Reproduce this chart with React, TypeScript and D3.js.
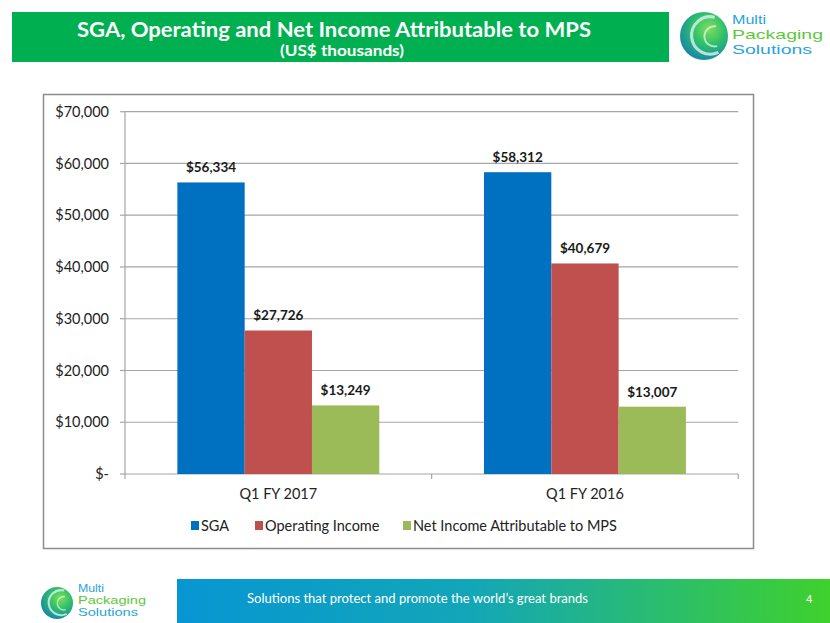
import React from "react";
import * as d3 from "d3";

const categories = ["Q1 FY 2017", "Q1 FY 2016"];
const seriesNames = ["SGA", "Operating Income", "Net Income Attributable to MPS"];
const sga = [56334, 58312];
const operatingIncome = [27726, 40679];
const netIncome = [13249, 13007];
const yTicks = [0, 10000, 20000, 30000, 40000, 50000, 60000, 70000];
const colors = ["#0070C0", "#C0504D", "#9BBB59"];
const logoWords = ["Multi", "Packaging", "Solutions"];

const W = 830, H = 623;
const FONT = "Lato, 'Open Sans', sans-serif";

function Logo({ cx, cy, r, tx, ty, fs, lh, widths }: { cx: number; cy: number; r: number; tx: number; ty: number; fs: number; lh: number; widths: number[] }) {
  const logoColors = ["#2aa3dc", "#5cc83a", "#2aa3dc"];
  return (
    <g>
      <circle cx={cx} cy={cy} r={r} fill="url(#orb)" />
      <path d={`M ${cx + r * 0.45} ${cy - r * 0.78} A ${r * 0.78} ${r * 0.78} 0 1 0 ${cx + r * 0.6} ${cy + r * 0.68}`} fill="none" stroke="#d8f3f0" strokeWidth={r * 0.13} opacity={0.8} />
      <path d={`M ${cx + r * 0.5} ${cy - r * 0.4} A ${r * 0.42} ${r * 0.42} 0 1 0 ${cx + r * 0.55} ${cy + r * 0.42}`} fill="none" stroke="#e8faf4" strokeWidth={r * 0.08} opacity={0.7} />
      {logoWords.map((w, i) => (
        <text key={w} x={tx} y={ty + i * lh} fill={logoColors[i]} fontSize={fs} fontFamily="'Liberation Sans', Arial, sans-serif" textLength={widths[i]} lengthAdjust="spacingAndGlyphs">
          {w}
        </text>
      ))}
    </g>
  );
}

export default function App() {
  const series = [sga, operatingIncome, netIncome];
  const x0 = d3.scaleBand<string>().domain(categories).range([125, 738.3]).paddingInner(0).paddingOuter(0);
  const x1 = d3.scaleBand<string>().domain(seriesNames).range([0, x0.bandwidth()]).paddingOuter(0.778).paddingInner(0);
  const y = d3.scaleLinear().domain([0, 70000]).range([474, 111.7]);
  const fmtTick = (v: number) => (v === 0 ? "$-" : "$" + d3.format(",")(v));
  const fmtVal = (v: number) => "$" + d3.format(",")(v);

  const legendItems = [
    { x: 191, label: seriesNames[0] },
    { x: 255, label: seriesNames[1] },
    { x: 403, label: seriesNames[2] },
  ];

  return (
    <svg width={W} height={H} style={{ position: "absolute", left: 0, top: 0, background: "#fff" }} fontFamily={FONT}>
      <defs>
        <linearGradient id="banner" x1="0" x2="1" y1="0" y2="0">
          <stop offset="0" stopColor="#0796d2" />
          <stop offset="0.45" stopColor="#13a6b8" />
          <stop offset="1" stopColor="#3fd12c" />
        </linearGradient>
        <radialGradient id="orb" cx="0.6" cy="0.35" r="0.75">
          <stop offset="0" stopColor="#7fe05a" />
          <stop offset="0.45" stopColor="#2fbf6a" />
          <stop offset="1" stopColor="#1479b8" />
        </radialGradient>
      </defs>

      {/* Title bar */}
      <rect x={12} y={12} width={657} height={50} fill="#00B050" />
      <text x={334} y={37} textAnchor="middle" fill="#fff" fontWeight="bold" fontSize={21} textLength={514} lengthAdjust="spacingAndGlyphs">
        SGA, Operating and Net Income Attributable to MPS
      </text>
      <text x={342} y={56} textAnchor="middle" fill="#fff" fontWeight="bold" fontSize={16} textLength={124} lengthAdjust="spacingAndGlyphs">
        (US$ thousands)
      </text>

      {/* Top-right logo */}
      <Logo cx={704} cy={36} r={24} tx={732} ty={24} fs={13.5} lh={15.2} widths={[34, 91, 80]} />

      {/* Chart frame */}
      <rect x={43.5} y={94.5} width={710} height={454} fill="#fff" stroke="#8c8c8c" strokeWidth={1.5} />

      {/* Gridlines */}
      {yTicks.map((t) => (
        <g key={t}>
          {t !== 0 && (
            <line x1={125} x2={738.3} y1={y(t)} y2={y(t)} stroke="#a6a6a6" strokeWidth={1.2} />
          )}
          <line x1={120} x2={125} y1={y(t)} y2={y(t)} stroke="#a6a6a6" strokeWidth={1.2} />
          <text x={109} y={y(t)} dy="0.35em" textAnchor="end" fill="#222" fontSize={14.5}>
            {fmtTick(t)}
          </text>
        </g>
      ))}
      {/* Axes */}
      <line x1={125} x2={125} y1={y(70000)} y2={y(0)} stroke="#a6a6a6" strokeWidth={1.2} />
      <line x1={125} x2={738.3} y1={y(0)} y2={y(0)} stroke="#a6a6a6" strokeWidth={1.2} />
      {[...categories.map((c) => x0(c)!), 738.3].map((xv, i) => (
        <line key={i} x1={xv} x2={xv} y1={y(0)} y2={y(0) + 5} stroke="#a6a6a6" strokeWidth={1.2} />
      ))}

      {/* Bars */}
      {categories.map((c, ci) => (
        <g key={c} transform={`translate(${x0(c)},0)`}>
          {seriesNames.map((s, si) => {
            const v = series[si][ci];
            const bx = x1(s)!;
            return (
              <g key={s}>
                <rect x={bx} y={y(v)} width={x1.bandwidth()} height={y(0) - y(v)} fill={colors[si]} />
                <text x={bx + x1.bandwidth() / 2} y={y(v) - 10} textAnchor="middle" fontWeight="bold" fontSize={13.5} fill="#1a1a1a">
                  {fmtVal(v)}
                </text>
              </g>
            );
          })}
          <text x={x0.bandwidth() / 2} y={499} textAnchor="middle" fontSize={14.5} fill="#222">
            {c}
          </text>
        </g>
      ))}

      {/* Legend */}
      {legendItems.map((it, i) => (
        <g key={it.label}>
          <rect x={it.x} y={521} width={8} height={9} fill={colors[i]} />
          <text x={it.x + 10} y={531} fontSize={14.5} fill="#222">{it.label}</text>
        </g>
      ))}

      {/* Bottom banner */}
      <rect x={177} y={579} width={653} height={44} fill="url(#banner)" />
      <text x={247} y={603} fill="#fff" fontSize={13} textLength={341} lengthAdjust="spacingAndGlyphs">
        Solutions that protect and promote the world’s great brands
      </text>
      <text x={806} y={603} fill="#fff" fontSize={11}>4</text>

      {/* Bottom-left logo */}
      <Logo cx={57} cy={603} r={16} tx={78} ty={592} fs={10.5} lh={11.8} widths={[26, 68, 60]} />
    </svg>
  );
}
